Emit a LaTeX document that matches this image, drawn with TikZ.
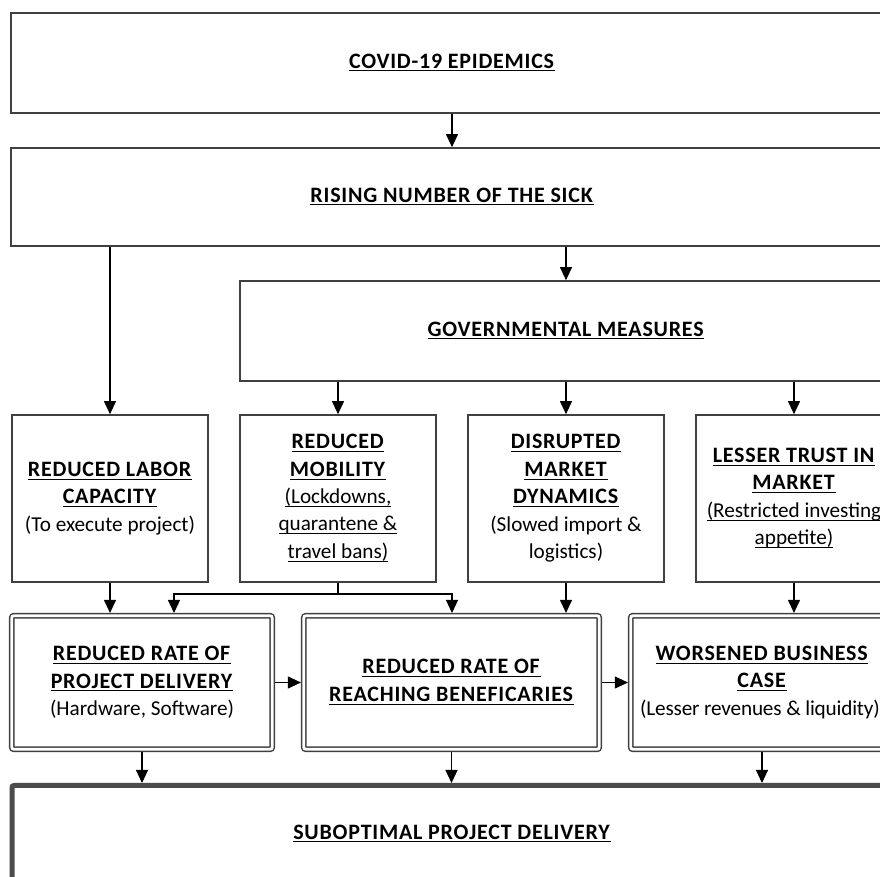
\documentclass[tikz,border=0pt]{standalone}
\usepackage{fontspec}
\setmainfont{Carlito}
\usetikzlibrary{arrows.meta}
\newcommand\ulx[1]{\underline{\vphantom{A}\smash{#1}}}
\newcommand\ttl[1]{\ulx{\addfontfeatures{LetterSpace=3.5}\textbf{#1}}}
\newcommand\sub[1]{{\fontsize{10.6pt}{13.2pt}\selectfont #1}}
\begin{document}
\begin{tikzpicture}[x=0.5pt,y=-0.5pt,
  txt/.style={align=center, font=\fontsize{11pt}{13.7pt}\selectfont, inner sep=0pt},
  box/.style={txt, draw=black!75, line width=0.85pt, fill=white},
  dbl/.style={txt, draw=black!75, line width=0.75pt, double=white, double distance=1.4pt, rounded corners=1pt, outer sep=1.45pt, fill=white},
  thick box/.style={txt, draw=black!70, line width=2.5pt, fill=white, rounded corners=1pt},
  arr/.style={draw=black, line width=0.55pt, -{Triangle[length=6.5pt,width=6pt]}},
  ln/.style={draw=black, line width=0.55pt}]
\clip (0,0) rectangle (880,877);
\fill[white] (0,0) rectangle (880,877);

% top boxes
\node[box, minimum width=441pt, minimum height=50pt] (covid) at (452,63) {\ttl{COVID-19 EPIDEMICS}};
\node[box, minimum width=441pt, minimum height=49pt] (sick) at (452,197) {\ttl{RISING NUMBER OF THE SICK}};
\node[box, minimum width=326pt, minimum height=50pt] (gov) at (566,331) {\ttl{GOVERNMENTAL MEASURES}};

% second row
\node[box, minimum width=98pt, minimum height=83.5pt] (labor) at (110,498.5)
  {\ttl{REDUCED LABOR}\\\ttl{CAPACITY}\\\sub{(To execute project)}};
\node[box, minimum width=98pt, minimum height=83.5pt] (mob) at (338,498.5)
  {\ttl{REDUCED}\\\ttl{MOBILITY}\\\sub{\ulx{(Lockdowns,}}\\\sub{\ulx{quarantene \&}}\\\sub{\ulx{travel bans)}}};
\node[box, minimum width=98pt, minimum height=83.5pt] (dis) at (566,498.5)
  {\ttl{DISRUPTED}\\\ttl{MARKET}\\\ttl{DYNAMICS}\\\sub{(Slowed import \&}\\\sub{logistics)}};
\node[box, minimum width=98pt, minimum height=83.5pt] (trust) at (794,498.5)
  {\ttl{LESSER TRUST IN}\\\ttl{MARKET}\\\sub{\ulx{(Restricted investing}}\\\sub{\ulx{appetite)}}};

% third row
\node[dbl, minimum width=130.2pt, minimum height=66.7pt] (rateA) at (142,682.5)
  {\ttl{REDUCED RATE OF}\\\ttl{PROJECT DELIVERY}\\\sub{(Hardware, Software)}};
\node[dbl, minimum width=147.7pt, minimum height=66.7pt] (rateB) at (451.5,682.5)
  {\ttl{REDUCED RATE OF}\\\ttl{REACHING BENEFICARIES}};
\node[dbl, minimum width=131.2pt, minimum height=66.7pt] (rateC) at (762,682.5)
  {\ttl{WORSENED BUSINESS}\\\ttl{CASE}\\\sub{\hspace*{-2pt}\addfontfeatures{LetterSpace=-0.8}(Lesser revenues \& liquidity)}};

% bottom
\node[thick box, minimum width=440pt, minimum height=48.5pt] (subopt) at (452,834)
  {\ttl{SUBOPTIMAL PROJECT DELIVERY}};

% connectors
\draw[arr] (covid.south) -- (sick.north);
\draw[arr] (sick.south -| labor.north) -- (labor.north);
\draw[arr] (sick.south -| gov.north) -- (gov.north);
\draw[arr] (gov.south -| mob.north) -- (mob.north);
\draw[arr] (gov.south -| dis.north) -- (dis.north);
\draw[arr] (gov.south -| trust.north) -- (trust.north);

\draw[arr] (labor.south) -- (labor.south |- rateA.north);
\coordinate (split) at (338,594);
\coordinate (inA) at (174,613);
\coordinate (inB) at (452,613);
\draw[ln] (mob.south) -- (split);
\draw[arr] (split) -| (inA);
\draw[arr] (split) -| (inB);
\draw[arr] (dis.south) -- (dis.south |- rateB.north);
\draw[arr] (trust.south) -- (trust.south |- rateC.north);

\draw[arr] (rateA.east) -- (rateB.west);
\draw[arr] (rateB.east) -- (rateC.west);

\draw[arr] (rateA.south) -- (rateA.south |- subopt.north);
\draw[arr] (rateB.south) -- (rateB.south |- subopt.north);
\draw[arr] (rateC.south) -- (rateC.south |- subopt.north);
\end{tikzpicture}
\end{document}
